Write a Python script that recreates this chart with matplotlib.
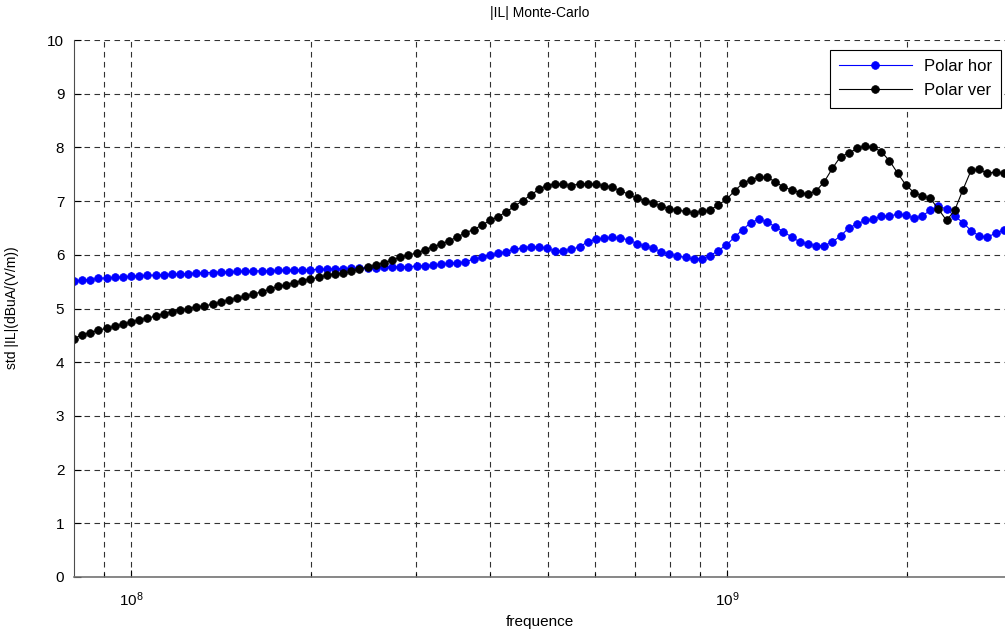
import numpy as np
import matplotlib
matplotlib.use("Agg")
import matplotlib.pyplot as plt
from matplotlib.ticker import LogLocator, NullFormatter

plt.rcParams['font.family'] = ['Liberation Sans', 'DejaVu Sans']
plt.rcParams['mathtext.fontset'] = 'custom'
plt.rcParams['mathtext.rm'] = 'Liberation Sans'

# frequency sweep (log spaced, 115 points)
freq = np.geomspace(8.02e7, 2.905e9, 115)

polar_hor = [
    5.51, 5.53, 5.54, 5.56, 5.57, 5.58, 5.59, 5.60, 5.61, 5.62,
    5.62, 5.63, 5.64, 5.64, 5.65, 5.66, 5.67, 5.67, 5.68, 5.68,
    5.69, 5.69, 5.70, 5.70, 5.70, 5.71, 5.71, 5.72, 5.72, 5.72,
    5.73, 5.73, 5.74, 5.74, 5.75, 5.75, 5.76, 5.76, 5.77, 5.77,
    5.78, 5.78, 5.79, 5.80, 5.81, 5.82, 5.84, 5.85, 5.87, 5.92,
    5.95, 5.99, 6.03, 6.06, 6.10, 6.13, 6.15, 6.15, 6.12, 6.07,
    6.08, 6.10, 6.15, 6.24, 6.29, 6.31, 6.33, 6.31, 6.28, 6.21,
    6.16, 6.12, 6.06, 6.01, 5.98, 5.95, 5.92, 5.93, 5.98, 6.08,
    6.18, 6.33, 6.47, 6.60, 6.66, 6.61, 6.52, 6.43, 6.33, 6.24,
    6.20, 6.17, 6.17, 6.24, 6.35, 6.50, 6.57, 6.64, 6.66, 6.72,
    6.72, 6.76, 6.74, 6.68, 6.72, 6.83, 6.91, 6.85, 6.72, 6.60,
    6.45, 6.35, 6.33, 6.40, 6.46,
]

polar_ver = [
    4.44, 4.51, 4.55, 4.60, 4.63, 4.67, 4.71, 4.75, 4.79, 4.82,
    4.86, 4.90, 4.94, 4.97, 5.00, 5.03, 5.05, 5.08, 5.12, 5.16,
    5.19, 5.23, 5.27, 5.31, 5.36, 5.41, 5.44, 5.48, 5.52, 5.55,
    5.58, 5.62, 5.65, 5.66, 5.69, 5.73, 5.77, 5.81, 5.85, 5.90,
    5.95, 6.00, 6.03, 6.09, 6.15, 6.20, 6.26, 6.33, 6.41, 6.47,
    6.55, 6.64, 6.71, 6.80, 6.90, 7.01, 7.11, 7.22, 7.29, 7.32,
    7.31, 7.29, 7.32, 7.32, 7.31, 7.29, 7.26, 7.19, 7.13, 7.05,
    7.01, 6.96, 6.91, 6.86, 6.83, 6.81, 6.78, 6.81, 6.83, 6.93,
    7.03, 7.19, 7.33, 7.40, 7.44, 7.44, 7.36, 7.26, 7.21, 7.16,
    7.13, 7.19, 7.36, 7.61, 7.83, 7.89, 7.98, 8.03, 8.00, 7.92,
    7.75, 7.52, 7.30, 7.16, 7.10, 7.05, 6.85, 6.64, 6.83, 7.21,
    7.57, 7.59, 7.52, 7.54, 7.52,
]

W, H = 1005, 635
fig = plt.figure(figsize=(W / 100, H / 100), dpi=100)
ax = fig.add_axes([74 / W, 1 - 577 / H, 1 - 74 / W, (577 - 40) / H])

ax.plot(freq, polar_hor, color='#0000ff', lw=0.8, marker='o', ms=5.6,
        mec='#0000ff', mfc='#0000ff', mew=0.5, label='Polar hor')
ax.plot(freq, polar_ver, color='black', lw=0.8, marker='o', ms=5.6,
        mec='black', mfc='black', mew=0.5, label='Polar ver')

ax.set_xscale('log')
ax.set_xlim(8.02e7, 2.92e9)
ax.set_ylim(0, 10)
ax.set_yticks(range(0, 11))
ax.xaxis.set_major_locator(LogLocator(base=10))
ax.xaxis.set_minor_locator(LogLocator(base=10, subs=np.arange(2, 10)))
ax.xaxis.set_minor_formatter(NullFormatter())

grid_style = dict(color='0.2', linestyle=(0, (5, 4)), linewidth=0.8)
ax.grid(True, which='major', axis='both', **grid_style)
ax.grid(True, which='minor', axis='x', **grid_style)
ax.set_axisbelow(True)

ax.tick_params(direction='in', labelsize=11, length=5, width=0.8)
ax.tick_params(axis='x', pad=10)
ax.tick_params(axis='y', pad=7)
ax.tick_params(which='minor', direction='in', length=3, width=0.8)
ax.spines['top'].set_visible(False)
ax.spines['right'].set_visible(False)
ax.spines['left'].set_color('0.3')
ax.spines['bottom'].set_color('0.45')
ax.spines['bottom'].set_linewidth(1.2)

fig.text(540 / W, 1 - 13 / H, '|IL| Monte-Carlo', fontsize=10,
         ha='center', va='center')
fig.text(540 / W, 1 - 622 / H, 'frequence', fontsize=11,
         ha='center', va='center')
fig.text(12 / W, 1 - 308 / H, 'std |IL|(dBuA/(V/m))', fontsize=10,
         ha='center', va='center', rotation=90)

leg = ax.legend(loc='upper right', bbox_to_anchor=(1001 / W, 1 - 50 / H),
                bbox_transform=fig.transFigure, borderaxespad=0,
                fontsize=12, fancybox=False, framealpha=1, edgecolor='black',
                handlelength=4.4, handletextpad=0.7, borderpad=0.55,
                labelspacing=0.55)
leg.get_frame().set_linewidth(0.8)

fig.savefig('out.png', dpi=100)
